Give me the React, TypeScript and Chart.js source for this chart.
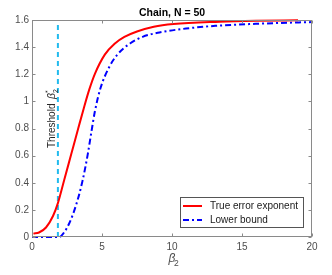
import React, { useEffect, useRef } from "react";
import { Chart, registerables } from "chart.js";

Chart.register(...registerables);

// ---------- data ----------
const titleText = "Chain, N = 50";
const xTickValues = [0, 5, 10, 15, 20];
const yTickValues = [0, 0.2, 0.4, 0.6, 0.8, 1, 1.2, 1.4, 1.6];

const trueBeta = [0.1, 0.5, 1.0, 1.5, 1.85, 2.3, 2.8, 3.3, 3.7, 4.1, 4.5, 5.2, 5.9, 6.6, 7.5, 8.7, 10.1, 13.4, 16, 19];
const trueExponent = [0.025, 0.033, 0.07, 0.155, 0.25, 0.42, 0.61, 0.8, 0.95, 1.09, 1.205, 1.345, 1.425, 1.475, 1.515, 1.55, 1.57, 1.587, 1.594, 1.598];

const lowerBeta = [0, 1.0, 1.95, 2.3, 2.7, 3.15, 3.6, 4.0, 4.25, 4.5, 4.9, 5.5, 6.1, 7.0, 7.9, 9.1, 11.0, 13.1, 16.6, 20];
const lowerBound = [0, 0, 0, 0.035, 0.11, 0.236, 0.41, 0.62, 0.78, 0.93, 1.1, 1.25, 1.345, 1.427, 1.476, 1.508, 1.537, 1.557, 1.574, 1.585];

const thresholdBeta = [1.85, 1.85];
const thresholdValue = [0, 1.565];

const legendLabels = ["True error exponent", "Lower bound"];

const FONT = "'Liberation Sans', Arial, Helvetica, sans-serif";
const RED = "#ff0000";
const BLUE = "#0000ff";
const CYAN = "#22bbee";
const TICK_COLOR = "#4d4d4d";
const BOX_COLOR = "#8a8a8a";

const toPoints = (xs: number[], ys: number[]) => xs.map((x, i) => ({ x, y: ys[i] }));

const overlayPlugin = {
  id: "overlay",
  afterDatasetsDraw(chart: any) {
    const { ctx, chartArea: a, scales } = chart;
    const xs = scales.x;
    const ys = scales.y;
    ctx.save();

    // axes box
    const L = Math.round(a.left) + 0.5;
    const R = Math.round(a.right) - 0.5;
    const T = Math.round(a.top) + 0.5;
    const B = Math.round(a.bottom) - 0.5;
    ctx.strokeStyle = BOX_COLOR;
    ctx.lineWidth = 1;
    ctx.setLineDash([]);
    ctx.strokeRect(L, T, R - L, B - T);

    // inward ticks on all four sides
    const tl = 3;
    ctx.beginPath();
    xTickValues.forEach((v) => {
      const px = Math.round(xs.getPixelForValue(v)) + 0.5;
      ctx.moveTo(px, B);
      ctx.lineTo(px, B - tl);
      ctx.moveTo(px, T);
      ctx.lineTo(px, T + tl);
    });
    yTickValues.forEach((v) => {
      const py = Math.round(ys.getPixelForValue(v)) + 0.5;
      ctx.moveTo(L, py);
      ctx.lineTo(L + tl, py);
      ctx.moveTo(R, py);
      ctx.lineTo(R - tl, py);
    });
    ctx.stroke();

    // title
    ctx.fillStyle = "#000";
    ctx.font = `bold 10.5px ${FONT}`;
    ctx.textAlign = "center";
    ctx.textBaseline = "alphabetic";
    ctx.fillText(titleText, (a.left + a.right) / 2, 15.5);

    // x axis label beta_2
    const cx = (a.left + a.right) / 2;
    ctx.fillStyle = TICK_COLOR;
    ctx.font = `italic 12px ${FONT}`;
    ctx.textAlign = "left";
    ctx.fillText("β", cx - 3.5, 261.5);
    ctx.font = `8.5px ${FONT}`;
    ctx.fillText("2", cx + 2, 265.5);

    // threshold label (rotated)
    const thx = xs.getPixelForValue(thresholdBeta[0]) - 2.5;
    ctx.save();
    ctx.translate(thx, 148);
    ctx.rotate(-Math.PI / 2);
    ctx.fillStyle = "#262626";
    ctx.font = `10px ${FONT}`;
    ctx.textAlign = "left";
    ctx.fillText("Threshold", 0, 0);
    ctx.font = `italic 10.5px ${FONT}`;
    ctx.fillText("β", 49, 0);
    ctx.font = `7px ${FONT}`;
    ctx.fillText("2", 55, 2.5);
    ctx.fillText("*", 55, -5.5);
    ctx.restore();

    // legend
    const lx = 180.5, ly = 197.5, lw = 123, lh = 30;
    ctx.fillStyle = "#fff";
    ctx.fillRect(lx, ly, lw, lh);
    ctx.strokeStyle = "#555";
    ctx.lineWidth = 1;
    ctx.strokeRect(lx, ly, lw, lh);

    const dsets = chart.data.datasets;
    const rows = [206, 220];
    ctx.font = `10px ${FONT}`;
    ctx.textBaseline = "middle";
    ctx.textAlign = "left";
    legendLabels.forEach((label, i) => {
      const ds = dsets[i];
      ctx.strokeStyle = ds.borderColor;
      ctx.lineWidth = ds.borderWidth;
      ctx.setLineDash(ds.borderDash || []);
      ctx.beginPath();
      ctx.moveTo(183, rows[i]);
      ctx.lineTo(202, rows[i]);
      ctx.stroke();
      ctx.setLineDash([]);
      ctx.fillStyle = "#1a1a1a";
      ctx.fillText(label, 210, rows[i] + 0.5);
    });

    ctx.restore();
  },
};

export default function App() {
  const canvasRef = useRef<HTMLCanvasElement | null>(null);

  useEffect(() => {
    if (!canvasRef.current) return;
    const chart = new Chart(canvasRef.current, {
      type: "line",
      data: {
        datasets: [
          {
            label: legendLabels[0],
            data: toPoints(trueBeta, trueExponent),
            borderColor: RED,
            borderWidth: 2,
            pointRadius: 0,
            cubicInterpolationMode: "monotone",
            fill: false,
            clip: false,
          },
          {
            label: legendLabels[1],
            data: toPoints(lowerBeta, lowerBound),
            borderColor: BLUE,
            borderWidth: 2,
            borderDash: [6, 3, 2, 3],
            pointRadius: 0,
            cubicInterpolationMode: "monotone",
            fill: false,
            clip: false,
          },
          {
            label: "Threshold",
            data: toPoints(thresholdBeta, thresholdValue),
            borderColor: CYAN,
            borderWidth: 2,
            borderDash: [5, 4],
            pointRadius: 0,
            fill: false,
            clip: false,
          },
        ],
      } as any,
      options: {
        animation: false,
        responsive: false,
        devicePixelRatio: 1,
        layout: { padding: { top: 20, right: 20, left: 0, bottom: 0 } },
        plugins: {
          legend: { display: false },
          title: { display: false },
          tooltip: { enabled: false },
        },
        scales: {
          x: {
            type: "linear",
            min: 0,
            max: 20,
            grid: { display: false, drawTicks: false },
            border: { display: false },
            afterBuildTicks: (s: any) => {
              s.ticks = xTickValues.map((value) => ({ value }));
            },
            afterFit: (s: any) => {
              s.height = 38;
            },
            ticks: {
              color: TICK_COLOR,
              font: { family: FONT, size: 10 },
              padding: 4,
              maxRotation: 0,
              callback: (v: any) => String(v),
            },
          },
          y: {
            type: "linear",
            min: 0,
            max: 1.6,
            grid: { display: false, drawTicks: false },
            border: { display: false },
            afterBuildTicks: (s: any) => {
              s.ticks = yTickValues.map((value) => ({ value }));
            },
            afterFit: (s: any) => {
              s.width = 32;
            },
            ticks: {
              color: TICK_COLOR,
              font: { family: FONT, size: 10 },
              padding: 3,
              callback: (v: any) => String(Number(Number(v).toFixed(1))),
            },
          },
        },
      } as any,
      plugins: [overlayPlugin],
    });
    return () => chart.destroy();
  }, []);

  return (
    <div style={{ position: "absolute", left: 0, top: 0, width: 332, height: 275, background: "#fff" }}>
      <canvas ref={canvasRef} width={332} height={275} style={{ width: 332, height: 275, display: "block" }} />
    </div>
  );
}
